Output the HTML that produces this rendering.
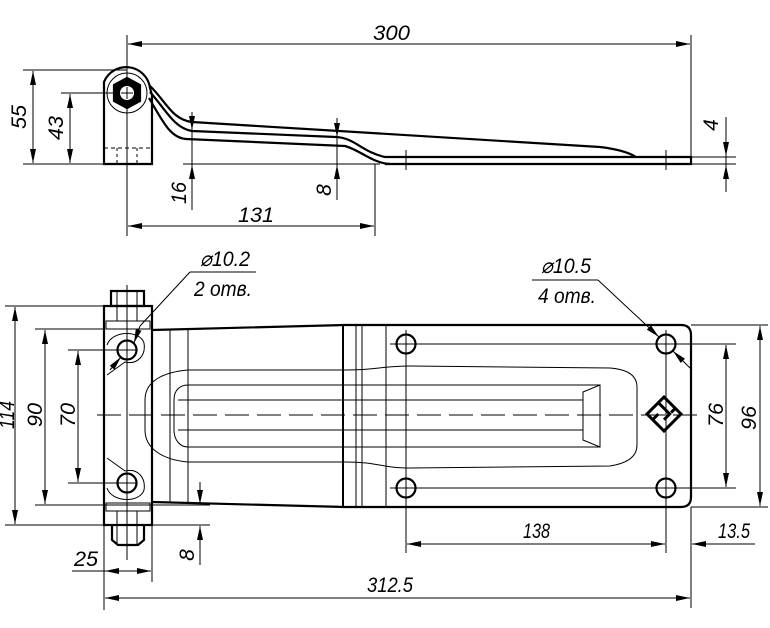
<!DOCTYPE html>
<html><head><meta charset="utf-8"><style>
html,body{margin:0;padding:0;background:#fff;width:770px;height:628px;overflow:hidden}
text{font-family:"Liberation Sans",sans-serif;font-style:italic;font-size:21px;fill:#000}
</style></head><body>
<svg width="770" height="628" viewBox="0 0 770 628" xmlns="http://www.w3.org/2000/svg">
<defs>
<marker id="a" viewBox="0 0 14 6" refX="14" refY="3" markerWidth="14" markerHeight="6" orient="auto-start-reverse" markerUnits="userSpaceOnUse"><path d="M0,0 L14,3 L0,6 Z" fill="#000"/></marker>
</defs>
<g fill="none" stroke="#000" stroke-width="1">
<line x1="127" y1="35" x2="127" y2="236"/>
<line x1="691" y1="35" x2="691" y2="160"/>
<line x1="128" y1="44" x2="690" y2="44" marker-start="url(#a)" marker-end="url(#a)"/>
<line x1="23" y1="70" x2="127" y2="70"/>
<line x1="23" y1="164" x2="104" y2="164"/>
<line x1="33" y1="71" x2="33" y2="163" marker-start="url(#a)" marker-end="url(#a)"/>
<line x1="61" y1="93" x2="120" y2="93"/>
<line x1="70" y1="94" x2="70" y2="163" marker-start="url(#a)" marker-end="url(#a)"/>
<line x1="183" y1="164" x2="380" y2="164"/>
<line x1="192" y1="118" x2="192" y2="210"/>
<line x1="192" y1="112" x2="192" y2="130" marker-end="url(#a)"/>
<line x1="192" y1="182" x2="192" y2="165" marker-end="url(#a)"/>
<line x1="337" y1="118" x2="337" y2="200"/>
<line x1="337" y1="122" x2="337" y2="137" marker-end="url(#a)"/>
<line x1="337" y1="182" x2="337" y2="165" marker-end="url(#a)"/>
<line x1="375" y1="164" x2="375" y2="236"/>
<line x1="128" y1="226" x2="374" y2="226" marker-start="url(#a)" marker-end="url(#a)"/>
<line x1="691" y1="157" x2="736" y2="157"/>
<line x1="691" y1="164" x2="736" y2="164"/>
<line x1="726" y1="117" x2="726" y2="192"/>
<line x1="726" y1="136" x2="726" y2="156" marker-end="url(#a)"/>
<line x1="726" y1="185" x2="726" y2="165" marker-end="url(#a)"/>
</g>
<g fill="none" stroke="#000" stroke-width="2.2">
<path d="M104,164 L104,82 A24,24 0 0 1 150,88 L152,95 L152,164 Z"/>
<path d="M150,86 C165,100 172,120 192,122 L600,147 Q625,150 636,157"/>
<path d="M150,92 C166,110 174,128 192,131 L336,137 C355,138 362,152 385,157 L691,157 L691,164 L385,164"/>
<path d="M149,98 C162,120 170,138 186,139 L345,146 C360,150 372,163 390,164"/>
<polygon points="127,78 140,85 140,101 127,108 114,101 114,85" fill="#000"/>
</g>
<g fill="none" stroke="#000" stroke-width="1">
<circle cx="127" cy="93" r="8" fill="#fff" stroke-width="2"/>
<line x1="121" y1="93" x2="133" y2="93"/><line x1="127" y1="87" x2="127" y2="99"/>
<circle cx="127" cy="93" r="20"/>
<line x1="104" y1="148" x2="152" y2="148" stroke-dasharray="4,3"/>
<line x1="117" y1="148" x2="117" y2="164" stroke-dasharray="3,3"/>
<line x1="137" y1="148" x2="137" y2="164" stroke-dasharray="3,3"/>
<line x1="406" y1="150" x2="406" y2="170"/><line x1="666" y1="150" x2="666" y2="170"/>
</g>
<text x="373" y="40" textLength="37" lengthAdjust="spacingAndGlyphs">300</text>
<text transform="translate(26,117) rotate(-90)" text-anchor="middle" textLength="24" lengthAdjust="spacingAndGlyphs">55</text>
<text transform="translate(63,128) rotate(-90)" text-anchor="middle" textLength="24" lengthAdjust="spacingAndGlyphs">43</text>
<text transform="translate(186,193) rotate(-90)" text-anchor="middle" textLength="22" lengthAdjust="spacingAndGlyphs">16</text>
<text transform="translate(331,190) rotate(-90)" text-anchor="middle">8</text>
<text x="238" y="222" textLength="36" lengthAdjust="spacingAndGlyphs">131</text>
<text transform="translate(718,125) rotate(-90)" text-anchor="middle">4</text>

<g fill="none" stroke="#000" stroke-width="2.2">
<rect x="104" y="306" width="48" height="219"/>
<rect x="111" y="291" width="33" height="15"/>
<path d="M112,525 L112,540 L118,545 L138,545 L144,540 L144,525"/>
<path d="M152,330 L345,325 L681,325 Q691,325 691,335 L691,497 Q691,507 681,507 L345,507 L152,502"/>
<circle cx="406" cy="344" r="9.5"/><circle cx="666" cy="344" r="9.5"/>
<circle cx="406" cy="488" r="9.5"/><circle cx="666" cy="488" r="9.5"/>
<circle cx="127" cy="350" r="9.5"/><circle cx="127" cy="483" r="9.5"/>
</g>
<g fill="none" stroke="#000" stroke-width="1">
<rect x="106" y="321" width="44" height="8"/><rect x="106" y="503" width="44" height="8"/>
<line x1="117" y1="291" x2="117" y2="321"/><line x1="137" y1="291" x2="137" y2="321"/>
<line x1="117" y1="511" x2="117" y2="545"/><line x1="137" y1="511" x2="137" y2="545"/>
<path d="M107,345 C112,330 140,330 144,343 C146,355 138,365 125,362 L107,375"/>
<path d="M107,488 C112,503 140,503 144,490 C146,478 138,468 125,471 L107,458"/>
<path d="M188,370 C165,372 145,380 145,400 L145,430 C145,450 165,460 188,462 L345,462 C380,462 380,468 410,468 L610,466 Q637,462 637,445 L637,387 Q637,370 610,368 L410,366 C380,366 380,370 345,370 Z"/>
<path d="M188,385 C180,385 174,390 174,400 L174,430 C174,440 180,447 188,447"/>
<line x1="188" y1="385" x2="600" y2="385"/><line x1="188" y1="447" x2="600" y2="447"/>
<line x1="178" y1="400" x2="583" y2="400"/><line x1="178" y1="430" x2="583" y2="430"/>
<path d="M600,385 L600,447 L583,440 L583,392 Z"/>
<line x1="170" y1="329" x2="170" y2="503"/><line x1="188" y1="329" x2="188" y2="503"/>
<line x1="343" y1="325" x2="343" y2="507" stroke-width="2"/>
<line x1="356" y1="325" x2="356" y2="507"/><line x1="362" y1="325" x2="362" y2="507"/>
<line x1="386" y1="325" x2="386" y2="507"/>
<line x1="97" y1="415" x2="700" y2="415" stroke-dasharray="24,8"/>
<line x1="127" y1="285" x2="127" y2="560"/>
<line x1="390" y1="344" x2="736" y2="344"/><line x1="390" y1="488" x2="736" y2="488"/>
<line x1="406" y1="330" x2="406" y2="553"/><line x1="666" y1="330" x2="666" y2="553"/>
<line x1="117" y1="350" x2="137" y2="350"/><line x1="117" y1="483" x2="137" y2="483"/>
<line x1="5" y1="306" x2="104" y2="306"/><line x1="5" y1="525" x2="210" y2="525"/>
<line x1="15" y1="307" x2="15" y2="524" marker-start="url(#a)" marker-end="url(#a)"/>
<line x1="35" y1="329" x2="104" y2="329"/><line x1="35" y1="505" x2="210" y2="505"/>
<line x1="45" y1="330" x2="45" y2="504" marker-start="url(#a)" marker-end="url(#a)"/>
<line x1="68" y1="350" x2="127" y2="350"/><line x1="68" y1="483" x2="127" y2="483"/>
<line x1="78" y1="351" x2="78" y2="482" marker-start="url(#a)" marker-end="url(#a)"/>
<line x1="200" y1="482" x2="200" y2="504" marker-end="url(#a)"/>
<line x1="200" y1="565" x2="200" y2="526" marker-end="url(#a)"/>
<line x1="104" y1="525" x2="104" y2="610"/><line x1="152" y1="525" x2="152" y2="582"/>
<line x1="72" y1="571" x2="151" y2="571" marker-end="url(#a)"/>
<line x1="105" y1="571" x2="120" y2="571" marker-start="url(#a)"/>
<line x1="691" y1="507" x2="691" y2="608"/>
<line x1="105" y1="598" x2="690" y2="598" marker-start="url(#a)" marker-end="url(#a)"/>
<line x1="407" y1="544" x2="665" y2="544" marker-start="url(#a)" marker-end="url(#a)"/>
<line x1="755" y1="544" x2="692" y2="544" marker-end="url(#a)"/>
<line x1="726" y1="345" x2="726" y2="487" marker-start="url(#a)" marker-end="url(#a)"/>
<line x1="691" y1="325" x2="768" y2="325"/><line x1="691" y1="507" x2="768" y2="507"/>
<line x1="760" y1="326" x2="760" y2="506" marker-start="url(#a)" marker-end="url(#a)"/>
<line x1="190" y1="272" x2="256" y2="272"/>
<path d="M190,272 L140,326" /><line x1="140" y1="326" x2="134" y2="343" marker-end="url(#a)"/>
<line x1="110" y1="370" x2="121" y2="357" marker-end="url(#a)"/>
<line x1="532" y1="280" x2="598" y2="280"/>
<line x1="598" y1="280" x2="659" y2="337" marker-end="url(#a)"/>
<line x1="692" y1="370" x2="673" y2="351" marker-end="url(#a)"/>
</g>
<g transform="translate(664,414) rotate(45)" fill="none" stroke="#000" stroke-width="3">
<rect x="-12" y="-12" width="24" height="24"/>
<path d="M-12,-4 L4,-4 L4,4 M-4,12 L-4,4 M4,-12 L4,-6"/>
</g>
<text x="200" y="266" textLength="50" lengthAdjust="spacingAndGlyphs">⌀10.2</text>
<text x="194" y="296" textLength="58" lengthAdjust="spacingAndGlyphs">2 отв.</text>
<text x="541" y="273" textLength="50" lengthAdjust="spacingAndGlyphs">⌀10.5</text>
<text x="538" y="303" textLength="58" lengthAdjust="spacingAndGlyphs">4 отв.</text>
<text transform="translate(14,415) rotate(-90)" text-anchor="middle" textLength="28" lengthAdjust="spacingAndGlyphs">114</text>
<text transform="translate(42,415) rotate(-90)" text-anchor="middle" textLength="24" lengthAdjust="spacingAndGlyphs">90</text>
<text transform="translate(75,415) rotate(-90)" text-anchor="middle" textLength="24" lengthAdjust="spacingAndGlyphs">70</text>
<text transform="translate(194,555) rotate(-90)" text-anchor="middle">8</text>
<text x="74" y="566" textLength="24" lengthAdjust="spacingAndGlyphs">25</text>
<text x="367" y="592" textLength="46" lengthAdjust="spacingAndGlyphs">312.5</text>
<text x="523" y="538" textLength="27" lengthAdjust="spacingAndGlyphs">138</text>
<text x="718" y="538" textLength="32" lengthAdjust="spacingAndGlyphs">13.5</text>
<text transform="translate(723,415) rotate(-90)" text-anchor="middle" textLength="24" lengthAdjust="spacingAndGlyphs">76</text>
<text transform="translate(756,418) rotate(-90)" text-anchor="middle" textLength="24" lengthAdjust="spacingAndGlyphs">96</text>
</svg>
</body></html>
